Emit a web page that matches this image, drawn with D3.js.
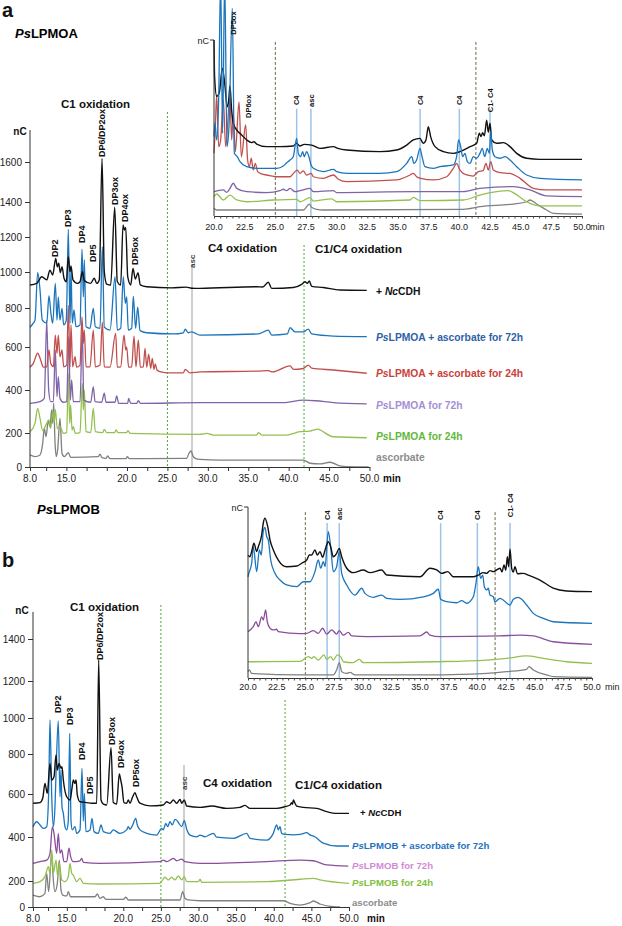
<!DOCTYPE html>
<html><head><meta charset="utf-8">
<script src="https://cdnjs.cloudflare.com/ajax/libs/d3/7.8.5/d3.min.js"></script>
<style>body{margin:0;background:#fff}svg{display:block;font-family:"Liberation Sans",Arial,sans-serif}</style>
</head><body><svg id="c" width="622" height="926"></svg>
<script>
// ---------------- DATA (time in min, signal in nC / relative units) ----------------
const aMainBlack=[[8.0,928],[8.83,937],[9.45,974],[10.07,956],[10.47,1011],[10.81,983],[11.18,1078],[11.38,1030],[11.55,1050],[11.75,996],[11.96,1030],[12.21,965],[12.49,946],[12.74,1088],[12.95,1002],[13.07,1034],[13.32,956],[13.85,937],[14.19,946],[14.47,1002],[14.72,952],[15.51,937],[15.95,965],[16.25,937],[16.57,956],[16.91,1618],[17.19,1002],[17.49,933],[17.98,928],[18.48,1370],[18.8,946],[19.22,928],[19.51,1269],[19.67,1240],[19.84,1255],[20.09,974],[20.46,928],[20.74,1021],[21.03,961],[21.36,996],[21.65,928],[22.44,918],[25.5,912],[27.3,916],[28.0,910],[29.03,909],[36.05,918],[36.79,917],[37.48,943],[37.9,909],[40.57,914],[41.61,931],[42.02,946],[42.31,937],[42.55,950],[42.85,920],[44.29,914],[46.35,900],[49.66,898]];
const aMainBlue=[[8.0,701],[8.41,722],[8.62,738],[8.95,998],[9.24,900],[9.52,738],[10.07,722],[10.35,868],[10.6,768],[10.81,722],[11.13,937],[11.34,738],[11.5,862],[11.71,738],[11.96,798],[12.17,713],[12.49,738],[12.74,1244],[12.95,722],[13.07,1021],[13.23,722],[13.44,790],[13.69,704],[14.19,713],[14.43,1130],[14.6,862],[14.72,1069],[14.93,704],[15.42,696],[15.83,798],[16.08,704],[16.66,696],[16.95,1145],[17.19,701],[17.9,687],[18.52,974],[18.8,687],[19.22,696],[19.54,974],[19.79,826],[19.96,862],[20.16,687],[20.58,696],[20.78,864],[21.07,696],[21.32,805],[21.61,684],[22.44,673],[25.73,667],[26.97,673],[27.21,691],[27.58,673],[28.0,678],[29.03,661],[36.24,667],[37.48,687],[37.9,661],[39.83,667],[40.17,699],[40.78,678],[41.81,678],[42.43,692],[42.85,667],[45.52,656],[49.66,653]];
const aMainRed=[[8.0,506],[8.41,524],[8.95,571],[9.32,540],[9.65,506],[10.07,508],[10.35,586],[10.56,524],[10.89,508],[11.13,661],[11.34,571],[11.5,661],[11.71,555],[11.96,586],[12.17,508],[12.54,516],[12.74,815],[12.95,508],[13.07,713],[13.28,508],[13.57,555],[13.77,506],[14.19,516],[14.43,755],[14.6,619],[14.72,687],[14.93,508],[15.42,508],[15.83,687],[16.08,508],[16.66,516],[16.95,727],[17.19,508],[17.9,506],[18.6,670],[18.8,506],[19.22,508],[19.63,661],[19.84,586],[19.96,601],[20.2,506],[20.58,508],[20.87,656],[21.11,508],[21.4,636],[21.65,506],[22.02,508],[22.23,594],[22.44,506],[22.68,567],[22.93,501],[23.13,547],[23.34,496],[23.5,521],[23.71,493],[24.08,485],[24.91,480],[26.97,480],[27.21,496],[27.79,480],[29.03,484],[36.24,488],[37.48,490],[38.0,484],[40.17,512],[40.6,496],[41.81,500],[42.43,516],[42.85,502],[45.52,493],[49.66,478]];
const aMainPurple=[[8.0,338],[9.24,346],[9.77,361],[10.07,738],[10.31,400],[10.56,346],[10.89,346],[11.13,586],[11.34,369],[11.5,462],[11.71,361],[12.13,343],[12.54,346],[12.78,653],[12.99,353],[13.15,447],[13.36,346],[14.19,346],[14.47,690],[14.65,353],[15.51,343],[15.83,415],[16.05,346],[16.87,343],[17.19,385],[17.4,343],[18.52,343],[18.72,372],[18.97,338],[20.09,338],[20.2,361],[20.46,338],[21.2,338],[21.4,350],[21.69,338],[29.03,341],[39.34,341],[41.81,353],[43.36,350],[45.52,341],[49.66,335]];
const aMainGreen=[[8.0,206],[8.62,245],[8.95,315],[9.24,268],[9.57,211],[10.07,245],[10.35,260],[10.56,222],[10.81,300],[11.0,250],[11.13,310],[11.38,220],[11.71,229],[12.13,198],[12.54,202],[12.74,478],[12.91,245],[13.03,330],[13.2,214],[13.36,229],[13.6,198],[14.19,202],[14.47,431],[14.6,307],[14.72,400],[14.93,206],[15.51,202],[15.83,315],[16.08,206],[16.99,202],[17.19,217],[17.49,202],[18.48,202],[18.64,214],[18.89,202],[19.96,202],[20.12,211],[20.37,198],[29.03,192],[29.86,198],[30.68,188],[36.05,188],[36.24,202],[36.7,188],[39.7,188],[41.4,206],[42.6,209],[43.67,218],[43.9,214],[45.52,178],[49.66,172]];
const aMainGrey=[[8.0,71],[8.62,61],[9.24,71],[9.57,139],[9.77,222],[9.98,178],[10.27,260],[10.47,229],[10.68,307],[10.81,245],[10.93,338],[11.1,139],[11.26,61],[11.42,100],[11.71,268],[11.96,81],[12.25,61],[12.74,84],[13.03,57],[16.45,61],[16.66,76],[16.87,57],[17.4,51],[17.61,65],[17.9,49],[19.88,49],[20.04,61],[20.29,49],[27.38,51],[27.67,81],[27.92,94],[28.2,61],[28.45,51],[29.03,45],[31.51,41],[41.82,41],[42.64,22],[43.88,18],[45.11,28],[46.35,6],[47.18,2],[49.9,0]];

const bMainBlack=[[8.0,557],[8.93,560],[9.29,580],[9.59,653],[9.9,603],[10.26,753],[10.49,670],[10.79,686],[11.06,795],[11.23,720],[11.46,753],[11.72,728],[11.85,737],[12.03,670],[12.48,587],[12.92,572],[13.18,628],[13.36,670],[13.58,653],[13.72,670],[13.89,595],[14.25,564],[15.14,560],[15.8,557],[16.47,557],[16.73,1300],[17.04,572],[17.35,553],[17.8,549],[18.37,835],[18.67,560],[19.12,553],[19.47,700],[19.66,670],[19.83,637],[20.09,560],[20.45,557],[20.67,572],[20.89,557],[21.25,587],[21.56,606],[21.78,587],[22.22,557],[23.55,545],[25.32,549],[25.77,564],[26.21,557],[26.65,572],[27.1,557],[27.54,575],[27.76,557],[28.11,572],[28.42,544],[30.2,538],[31.75,544],[33.74,533],[35.51,538],[36.18,547],[36.84,533],[40.39,533],[41.49,541],[42.16,549],[42.38,560],[42.5,552],[42.6,572],[42.82,557],[43.05,544],[43.93,538],[45.71,533],[47.04,518],[48.37,510],[50.0,510]];
const bMainBlue=[[8.0,448],[8.49,471],[8.93,456],[9.37,440],[9.82,448],[10.08,603],[10.26,989],[10.49,587],[10.7,448],[10.92,541],[11.06,703],[11.36,984],[11.59,587],[11.72,720],[11.85,541],[12.03,510],[12.25,448],[12.48,433],[12.69,475],[12.88,915],[13.05,475],[13.22,433],[13.58,448],[13.8,417],[14.25,433],[14.51,728],[14.69,475],[14.82,603],[15.04,425],[15.58,433],[15.84,487],[16.11,425],[16.68,417],[17.04,456],[17.35,425],[18.23,417],[18.67,433],[19.56,417],[20.45,433],[20.67,448],[20.89,436],[21.25,456],[21.65,487],[21.86,456],[22.22,433],[23.11,417],[24.44,409],[25.1,440],[25.32,433],[25.64,463],[25.9,448],[26.21,471],[26.52,456],[26.87,482],[27.18,475],[27.4,463],[27.76,448],[28.11,476],[28.43,436],[28.87,409],[29.76,401],[30.2,409],[30.86,401],[31.97,417],[32.41,399],[34.62,394],[36.4,417],[36.84,394],[39.06,386],[39.94,417],[40.39,456],[40.6,433],[40.83,448],[41.05,417],[41.49,412],[42.6,410],[43.5,412],[44.38,420],[44.82,410],[45.5,400],[46.58,372],[48.37,359],[50.0,359]];
const bMainPurple=[[8.0,280],[8.93,288],[9.82,295],[10.26,326],[10.57,448],[10.79,417],[11.15,326],[11.36,417],[11.59,326],[11.81,341],[12.12,288],[12.48,288],[12.78,349],[13.01,310],[13.36,288],[14.25,292],[14.47,303],[14.69,285],[16.9,280],[24.88,288],[25.32,295],[25.8,288],[26.65,303],[27.1,292],[27.76,299],[28.2,288],[30.2,280],[39.06,288],[43.49,295],[45.26,292],[47.04,273],[49.9,268]];
const bMainGreen=[[8.0,182],[8.93,195],[9.59,220],[10.04,265],[10.26,235],[10.49,341],[10.7,235],[11.06,295],[11.28,220],[11.5,280],[11.81,205],[12.25,195],[12.69,220],[12.92,280],[13.14,235],[13.36,227],[13.8,195],[14.25,212],[14.69,182],[16.9,177],[24.88,182],[25.54,217],[25.98,205],[26.43,217],[26.87,205],[27.32,223],[27.76,205],[28.11,220],[28.43,195],[29.98,195],[30.2,208],[30.42,190],[39.06,195],[43.49,208],[45.26,212],[46.14,205],[50.0,182]];
const bMainGrey=[[8.0,92],[8.93,79],[9.59,105],[9.82,235],[10.08,118],[10.49,326],[10.7,205],[10.92,118],[11.23,182],[11.5,295],[11.72,131],[11.95,92],[12.48,85],[12.69,118],[13.0,79],[16.24,79],[16.55,100],[16.9,67],[17.35,79],[17.7,59],[20.0,59],[20.36,75],[20.67,54],[27.54,54],[27.89,118],[28.2,67],[28.6,54],[30.2,48],[41.27,48],[42.16,28],[43.49,15],[44.82,33],[45.26,46],[46.14,23],[47.91,2],[48.8,0]];

const iaBlack=[[20.0,100],[20.05,79],[20.22,68],[20.43,70],[20.68,84],[20.9,73.5],[21.06,62],[21.2,66],[21.3,74],[21.44,60],[21.57,52.7],[21.85,48.9],[22.26,46],[22.67,43.2],[23.07,41.7],[23.26,42.2],[23.48,40.9],[24.3,39.4],[25.38,39.4],[26.46,39.8],[26.74,41.3],[27.0,39.8],[27.36,40.7],[27.96,40.3],[28.64,38.4],[29.73,39.4],[30.1,38.4],[30.82,37.5],[33.53,36.6],[34.89,37.5],[35.71,40.3],[36.25,43.2],[36.79,44.1],[37.06,41.3],[37.28,43.2],[37.47,50.7],[37.66,45.1],[38.02,39.4],[38.7,36.6],[39.51,35.6],[40.05,36.6],[40.87,39.4],[41.41,41.3],[41.63,47],[41.77,45.1],[41.9,47.3],[42.04,45.6],[42.23,54.5],[42.36,47.6],[42.5,52.7],[42.64,43.2],[43.05,41.3],[43.59,41.7],[44.13,39.4],[44.68,35.6],[45.49,32.8],[46.58,32.2],[50.0,32.2]];
const iaBlue=[[20.0,45.1],[20.08,52.7],[20.22,43.2],[20.38,65.9],[20.54,135],[20.7,47],[20.87,135],[21.06,39.4],[21.22,50.7],[21.49,118],[21.66,35.6],[21.9,33.7],[22.12,30.9],[22.67,28],[23.48,27.1],[25.11,27.1],[25.65,28.4],[25.93,30.3],[26.2,31.8],[26.46,33.7],[26.74,44.1],[26.87,35.6],[27.06,33.7],[27.23,36.6],[27.36,33.7],[27.55,36.6],[27.74,33.7],[27.91,29],[28.1,27.1],[28.91,25.2],[29.73,26.5],[30.0,25.2],[30.82,24.2],[33.53,24.2],[34.89,25.2],[35.71,29.9],[36.12,33.7],[36.3,29.9],[36.52,31.8],[36.79,38.4],[36.96,33.7],[37.2,28],[37.88,27.1],[38.42,28],[39.51,29],[39.78,33.7],[39.94,43.2],[40.11,39.4],[40.27,33.7],[40.46,35.6],[40.65,30.9],[40.87,29.9],[41.14,33.7],[41.41,32.8],[41.68,35.6],[41.87,38.4],[42.07,33.7],[42.28,38.4],[42.45,35.6],[42.56,47.9],[42.69,37.5],[42.91,33.7],[43.32,32.8],[43.72,33.7],[44.13,31.8],[44.68,28],[45.49,23.3],[46.58,21.4],[50.0,20.5]];
const iaRed=[[20.0,35.6],[20.11,50.7],[20.22,68.8],[20.38,39.4],[20.54,43],[20.76,65.9],[20.95,39.4],[21.3,67.8],[21.44,43.2],[21.57,58.3],[21.74,36.6],[22.04,64.9],[22.23,33.7],[22.58,51.7],[22.74,31.8],[22.88,28],[23.04,32.8],[23.2,26.1],[23.37,29.9],[23.56,25.2],[23.89,23.9],[24.3,23.3],[25.11,22.3],[26.2,22.3],[26.6,25.2],[26.79,26.1],[27.01,24.2],[27.28,25.6],[27.55,23.3],[27.91,24.2],[28.1,22.3],[28.91,21.4],[29.73,23.3],[30.14,20.9],[30.82,19.5],[34.89,20.5],[35.98,23.3],[36.25,24.2],[36.52,22.3],[36.85,21.4],[37.88,20.5],[38.97,22.3],[39.51,27.1],[39.78,29.9],[40.05,26.1],[40.6,23.3],[41.14,22.7],[41.55,25.2],[41.95,25.8],[42.17,29.9],[42.36,26.1],[42.56,30.9],[42.77,26.1],[43.32,24.6],[44.13,24.2],[44.95,21.4],[46.03,15.7],[47.12,14.8],[50.0,14.8]];
const iaPurple=[[20.0,13.8],[20.76,14.8],[21.03,13.4],[21.3,15.7],[21.57,18.6],[21.85,15.7],[22.67,13.8],[24.3,13.3],[25.38,14.4],[25.65,15.2],[25.93,14.4],[26.2,15.7],[26.6,13.8],[27.1,14.6],[27.83,15.7],[28.1,13.8],[29.73,14.4],[30.0,13.3],[36.25,13.8],[40.32,13.8],[41.68,15.7],[44.4,16.7],[45.76,14.8],[47.12,11.4],[50.0,11]];
const iaGreen=[[20.0,11],[20.22,12.5],[20.76,9.1],[21.3,11.9],[21.85,9.1],[22.67,8.1],[24.84,9.1],[26.74,9.5],[27.01,8.1],[27.83,10.4],[28.1,8.5],[29.59,9.7],[30.0,8.1],[35.98,9.1],[36.25,10.6],[36.79,8.7],[40.32,9.1],[41.68,11.9],[43.05,13.8],[44.0,14.4],[44.4,13.3],[45.49,8.1],[46.58,5.7],[50.0,5.7]];
const iaGrey=[[20.0,4.4],[20.22,3.4],[27.28,3.4],[27.77,6.8],[27.96,5],[28.37,3.8],[28.91,3.4],[40.32,3.8],[41.68,5.3],[44.4,6.8],[45.49,8.1],[45.76,9.1],[46.3,6.8],[47.12,3.4],[47.66,1.5],[50.0,1.1]];

const ibBlack=[[20.0,71.9],[20.17,70.9],[20.35,74.9],[20.52,78.8],[20.76,73.9],[20.9,76.8],[21.19,83.6],[21.33,90.5],[21.48,93.4],[21.72,88.5],[21.92,80.7],[22.21,74.9],[22.64,69],[23.37,65.1],[24.27,65.5],[24.68,67.1],[25.12,69],[25.35,71.9],[25.55,71.9],[25.84,74.9],[26.04,71.9],[26.28,73.9],[26.51,70.6],[26.72,74.9],[27.0,79.7],[27.21,76.8],[27.44,70.9],[27.73,72.9],[27.96,75.8],[28.17,70.9],[28.61,64.2],[29.18,61.6],[30.05,63.2],[30.64,61.6],[31.66,63.2],[32.1,60.2],[35.0,59.2],[35.87,64.2],[36.46,63.2],[36.89,61.2],[37.42,62.2],[37.9,59.2],[39.65,59.2],[40.08,60.2],[40.52,61.6],[40.81,61.2],[41.1,62.8],[41.39,62.2],[41.98,64.2],[42.15,62],[42.33,66.1],[42.48,63],[42.62,70.9],[42.73,65],[42.85,75.3],[43.0,64],[43.14,62],[43.28,65.1],[43.5,61],[44.0,61.2],[44.5,60],[45.46,57.3],[46.62,52.5],[47.79,50.9],[50.0,50.5]];
const ibBlue=[[20.0,59.2],[20.03,60.2],[20.32,67.1],[20.46,76.8],[20.76,62.2],[20.99,74.9],[21.16,71.9],[21.33,85.6],[21.48,88.1],[21.63,82.6],[21.77,80.7],[21.98,69],[22.35,61.2],[22.79,57.3],[23.37,54.4],[24.25,53.4],[24.82,56.3],[25.41,56.3],[25.84,62.2],[26.13,69],[26.34,64.2],[26.57,68],[26.72,65.1],[27.0,85.6],[27.21,76.8],[27.44,62.2],[27.73,65.1],[27.96,73.9],[28.17,61.2],[28.61,54.4],[29.33,48.5],[29.92,52.5],[30.2,49.5],[30.93,47.2],[31.66,48.5],[32.1,46.6],[33.26,46],[35.29,47.5],[36.16,49.5],[36.6,51.9],[36.8,46],[37.33,44.6],[38.2,44],[38.64,45.2],[39.07,43.7],[39.65,47.5],[39.88,55.4],[40.08,65.1],[40.29,58.3],[40.47,60.2],[40.61,53.4],[40.82,51.5],[40.96,52.5],[41.1,48.5],[41.39,47.5],[41.54,44.6],[41.98,46.6],[42.85,42.7],[43.14,46],[43.57,47.2],[43.87,46],[44.3,42.7],[44.88,37.8],[45.75,34.9],[46.62,32.9],[50.0,32]];
const ibPurple=[[20.0,27.1],[20.46,30],[20.7,32.9],[20.9,30],[21.19,35.8],[21.33,33.9],[21.54,39.8],[21.68,32.9],[21.92,29.1],[22.21,28.1],[22.5,28.5],[22.64,27.1],[24.53,26],[25.12,26.1],[25.7,27.7],[26.13,26.1],[26.51,29.1],[26.86,25.7],[27.3,28.1],[27.73,25.7],[27.96,27.7],[28.31,25.1],[28.75,26.7],[29.04,24.6],[30.35,24.2],[35.0,24.6],[35.58,26.9],[35.87,25.1],[36.74,24.2],[41.98,24.6],[43.72,25.1],[44.88,24.6],[46.62,21.2],[50.0,19.7]];
const ibGreen=[[20.0,9.5],[24.53,9.7],[25.26,12.5],[25.55,11.5],[25.76,12.5],[26.13,10.5],[26.63,13.5],[26.86,10.9],[27.21,12.5],[27.44,10.5],[27.79,13.5],[28.08,12.5],[28.31,9.5],[29.18,9],[29.7,10.9],[30.05,9],[36.16,9.5],[40.82,10.5],[42.56,11.5],[44.3,12.9],[45.75,11.5],[47.79,9.5],[50.0,8.6]];
const ibGrey=[[20.0,3.7],[20.12,4.7],[20.32,2.7],[24.53,1.8],[27.44,1.8],[27.73,4.7],[27.96,9],[28.17,3.7],[28.61,2.7],[28.9,3.3],[29.33,1.8],[36.16,1.8],[38.49,2.1],[40.82,2.7],[42.56,3.7],[44.3,5.1],[44.5,6.6],[44.88,4.7],[46.05,1.8],[46.62,0.8],[50.0,0.4]];

// axis ticks / labels
const mainYTicksA=[0,200,400,600,800,1000,1200,1400,1600];
const mainYTicksB=[0,200,400,600,800,1000,1200,1400];
const mainXLabelVals=[8,12.5,20,25,30,35,40,45,50];
const mainXLabelText=["8.0","15.0","20.0","25.0","30.0","35.0","40.0","45.0","50.0"];
const mainXMinor=[8,10,12.5,15,17.5,20,22.5,25,27.5,30,32.5,35,37.5,40,42.5,45,47.5,50];
const insetXLabels=[20,22.5,25,27.5,30,32.5,35,37.5,40,42.5,45,47.5,50];
const insetXMinor=d3.range(20,50.01,0.5);

// peak annotations
const peakNames=["DP2","DP3","DP4","DP5","DP6/DP2ox","DP3ox","DP4ox","DP5ox"];
const peakTimesA=[11.09,12.7,14.43,15.79,16.91,18.52,19.75,21.0];
const peakLevelsA=[1086,1257,1166,1057,1625,1383,1286,1040];
const peakTimesB=[11.32,12.92,14.51,15.58,16.9,18.5,19.7,21.69];
const peakLevelsB=[1027,961,770,600,1300,850,730,635];
const insetANames=["DP5ox","DP6ox","C4","asc","C4","C4","C1- C4"];
const insetATimes=[21.55,22.77,26.74,27.9,36.8,40.0,42.5];
const insetALevels=[103,55.7,63,62,63,63,59];
const insetBNames=["C4","asc","C4","C4","C1- C4"];
const insetBTimes=[26.9,27.96,36.8,40.0,42.85];
const insetBLevels=[92.4,92.4,92.4,92.4,94];
const markerTimesA=[26.74,27.9,36.8,40.0,42.5];
const markerTimesB=[26.9,27.96,36.8,40.0,42.85];

const legendA=[["+ ","Nc","CDH"],["","Ps","LPMOA + ascorbate for 72h"],["","Ps","LPMOA + ascorbate for 24h"],["","Ps","LPMOA for 72h"],["","Ps","LPMOA for 24h"],["ascorbate","",""]];
const legendLevelsA=[894,651,479,330,182,59];
const legendB=[["+ ","Nc","CDH"],["","Ps","LPMOB + ascorbate for 72h"],["","Ps","LPMOB for 72h"],["","Ps","LPMOB for 24h"],["ascorbate","",""]];
const legendLevelsB=[512,359,268,185,31];

// ---------------- DRAWING ----------------
const svg=d3.select("#c");
const C={black:"#111",blue:"#1b75bc",red:"#c0504d",purpleA:"#7e64a8",purpleB:"#8a4f9c",green:"#94c051",grey:"#808080"};

const xA=d3.scaleLinear([8,50],[30,369.5]);
const yA=d3.scaleLinear(mainYTicksA,[467,433,390,347,308,272,237,202,162]);
const xB=d3.scaleLinear([8,50],[33,349]);
const yB=d3.scaleLinear(mainYTicksB,[907,881,837,794,754,718,681,639]);
const xIA=d3.scaleLinear([20,50],[214,582]);
const yIA=d3.scaleLinear([0,100],[216,40]);
const xIB=d3.scaleLinear([20,50],[248,592]);
const yIB=d3.scaleLinear([0,100],[678,507]);

function traces(x,y,list){
  const g=svg.append("g");
  const line=d3.line().x(d=>x(d[0])).y(d=>y(d[1])).curve(d3.curveMonotoneX);
  list.forEach(([data,col,w])=>g.append("path").datum(data).attr("d",line)
    .attr("fill","none").attr("stroke",col).attr("stroke-width",w||1.3).attr("stroke-linejoin","round"));
}
function vtext(x,y,txt,size,weight,fill){
  svg.append("text").attr("transform",`translate(${x},${y}) rotate(-90)`).attr("dy","0.35em")
    .attr("font-size",size).attr("font-weight",weight||"bold").attr("fill",fill||"#111").text(txt);
}
function vline(x,y1,y2,col,w,dash){
  svg.append("line").attr("x1",x).attr("x2",x).attr("y1",y1).attr("y2",y2)
    .attr("stroke",col).attr("stroke-width",w).attr("stroke-dasharray",dash||null);
}
function text(x,y,t,size,weight,anchor,fill){
  return svg.append("text").attr("x",x).attr("y",y).attr("font-size",size).attr("font-weight",weight||"normal")
    .attr("text-anchor",anchor||"start").attr("fill",fill||"#111").text(t);
}
function richText(x,y,parts,size,fill){
  const t=svg.append("text").attr("x",x).attr("y",y).attr("font-size",size).attr("font-weight","bold").attr("fill",fill);
  t.append("tspan").text(parts[0]);
  if(parts[1]) t.append("tspan").attr("font-style","italic").text(parts[1]);
  if(parts[2]) t.append("tspan").text(parts[2]);
}
function mainXAxis(x,y0,fs){
  const g=svg.append("g").attr("transform",`translate(0,${y0})`)
    .call(d3.axisBottom(x).tickValues(mainXMinor).tickSize(4).tickSizeOuter(0).tickFormat(""));
  g.select(".domain").attr("stroke","#333");
  g.selectAll(".tick line").attr("stroke","#333");
  svg.append("g").selectAll("text").data(mainXLabelVals).join("text")
    .attr("x",d=>x(d)).attr("y",y0+15).attr("text-anchor","middle").attr("font-size",fs).attr("fill","#222")
    .text((d,i)=>mainXLabelText[i]);
}
function mainYAxis(x0,y,ticks,topVal){
  const g=svg.append("g").attr("transform",`translate(${x0},0)`)
    .call(d3.axisLeft(y).tickValues(ticks).tickSize(5).tickPadding(3).tickFormat(d=>d));
  g.select(".domain").remove();
  g.selectAll(".tick line").attr("stroke","#333");
  g.selectAll(".tick text").attr("font-size",10).attr("fill","#222").attr("font-family","Liberation Sans, Arial, sans-serif");
  svg.append("line").attr("x1",x0).attr("x2",x0).attr("y1",y(0)).attr("y2",y(topVal)).attr("stroke","#333");
}
function insetAxes(x,y,labY){
  const g=svg.append("g").attr("transform",`translate(0,${y(0)})`)
    .call(d3.axisBottom(x).tickValues(insetXMinor).tickSize(2.5).tickSizeOuter(0).tickFormat(""));
  g.select(".domain").attr("stroke","#333");
  g.selectAll(".tick line").attr("stroke","#444");
  svg.append("g").selectAll("text").data(insetXLabels).join("text")
    .attr("x",d=>x(d)).attr("y",labY).attr("text-anchor","middle").attr("font-size",9).attr("fill","#222")
    .text(d=>d.toFixed(1));
  svg.append("line").attr("x1",x(20)).attr("x2",x(20)).attr("y1",y(0)).attr("y2",y(100)).attr("stroke","#333");
  svg.append("line").attr("x1",x(20)-4).attr("x2",x(20)).attr("y1",y(100)).attr("y2",y(100)).attr("stroke","#333");
  text(x(20)-5,y(100)+3.5,"nC",9,"normal","end","#222");
}

// ===== Panel a =====
text(2,17,"a",20,"bold");
const ta=svg.append("text").attr("x",15).attr("y",38).attr("font-size",13).attr("font-weight","bold");
ta.append("tspan").attr("font-style","italic").text("Ps"); ta.append("tspan").text("LPMOA");
text(95.5,108,"C1 oxidation",11.5,"bold","middle");
text(208,252,"C4 oxidation",11.5,"bold");
text(315,253,"C1/C4 oxidation",11.5,"bold");
text(20,135,"nC",10,"bold","middle");

vline(xA(25),yA(1850),yA(0),"#4aa532",1,"2,2");
vline(xA(41.9),yA(1154),yA(0),"#4aa532",1,"2,2");
vline(xA(28.04),yA(1040),yA(0),"#cfcfcf",2);
vtext(xA(28.04),yA(1023),"asc",8,"bold","#444");

traces(xA,yA,[[aMainGrey,C.grey],[aMainGreen,C.green],[aMainPurple,C.purpleA],[aMainRed,C.red],[aMainBlue,C.blue],[aMainBlack,C.black,1.4]]);
mainXAxis(xA,467,10);
mainYAxis(30,yA,mainYTicksA,1760);
text(383,482,"min",10,"bold");
peakNames.forEach((n,i)=>vtext(xA(peakTimesA[i]),yA(peakLevelsA[i]),n,9,"bold"));
const legColA=["#111","#2d62a8","#c9413b","#a48fd4","#62b83a","#8c8c8c"];
legendA.forEach((p,i)=>richText(376,yA(legendLevelsA[i])+3.7,p,10.3,legColA[i]));

// inset a
markerTimesA.forEach(t=>vline(xIA(t),yIA(61),yIA(0),"#9dc3e6",1.5));
vline(xIA(25),yIA(98.9),yIA(0),"#6b6a45",1,"3,2");
vline(xIA(41.35),yIA(98.9),yIA(0),"#6b6a45",1,"3,2");
traces(xIA,yIA,[[iaGrey,C.grey],[iaGreen,C.green],[iaPurple,C.purpleA],[iaRed,C.red],[iaBlack,C.black,1.4],[iaBlue,C.blue]]);
insetAxes(xIA,yIA,230);
text(590,230,"min",9,"normal","start","#222");
insetANames.forEach((n,i)=>vtext(xIA(insetATimes[i]),yIA(insetALevels[i]),n,7.5,"bold"));

// ===== Panel b =====
text(2,567,"b",20,"bold");
const tb=svg.append("text").attr("x",37).attr("y",514).attr("font-size",13).attr("font-weight","bold");
tb.append("tspan").attr("font-style","italic").text("Ps"); tb.append("tspan").text("LPMOB");
text(70,611,"C1 oxidation",11.5,"bold");
text(203,787,"C4 oxidation",11.5,"bold");
text(295,789,"C1/C4 oxidation",11.5,"bold");
text(22,614,"nC",10,"bold","middle");

vline(xB(25),yB(1562),yB(0),"#4aa532",1,"2,2");
vline(xB(41.5),yB(1097),yB(0),"#4aa532",1,"2,2");
vline(xB(28.07),yB(745),yB(0),"#cfcfcf",2);
vtext(xB(28.07),yB(620),"asc",8,"bold","#444");

traces(xB,yB,[[bMainGrey,C.grey],[bMainGreen,C.green],[bMainPurple,C.purpleB],[bMainBlue,C.blue],[bMainBlack,C.black,1.4]]);
mainXAxis(xB,907,10);
mainYAxis(33,yB,mainYTicksB,1529);
text(367,922,"min",10,"bold");
peakNames.forEach((n,i)=>vtext(xB(peakTimesB[i]),yB(peakLevelsB[i]),n,9,"bold"));
const legColB=["#111","#1f73c0","#d38ad6","#80c040","#8c8c8c"];
legendB.forEach((p,i)=>richText(i===0?360:352,yB(legendLevelsB[i])+3.4,p,9.6,legColB[i]));

// inset b
markerTimesB.forEach(t=>vline(xIB(t),yIB(90.6),yIB(0),"#9dc3e6",1.5));
vline(xIB(25),yIB(97),yIB(0),"#6b6a45",1,"3,2");
vline(xIB(41.55),yIB(97),yIB(0),"#6b6a45",1,"3,2");
traces(xIB,yIB,[[ibGrey,C.grey],[ibGreen,C.green],[ibPurple,C.purpleB],[ibBlue,C.blue],[ibBlack,C.black,1.4]]);
insetAxes(xIB,yIB,690);
text(605,690,"min",9,"normal","start","#222");
insetBNames.forEach((n,i)=>vtext(xIB(insetBTimes[i]),yIB(insetBLevels[i]),n,7.5,"bold"));
</script></body></html>
